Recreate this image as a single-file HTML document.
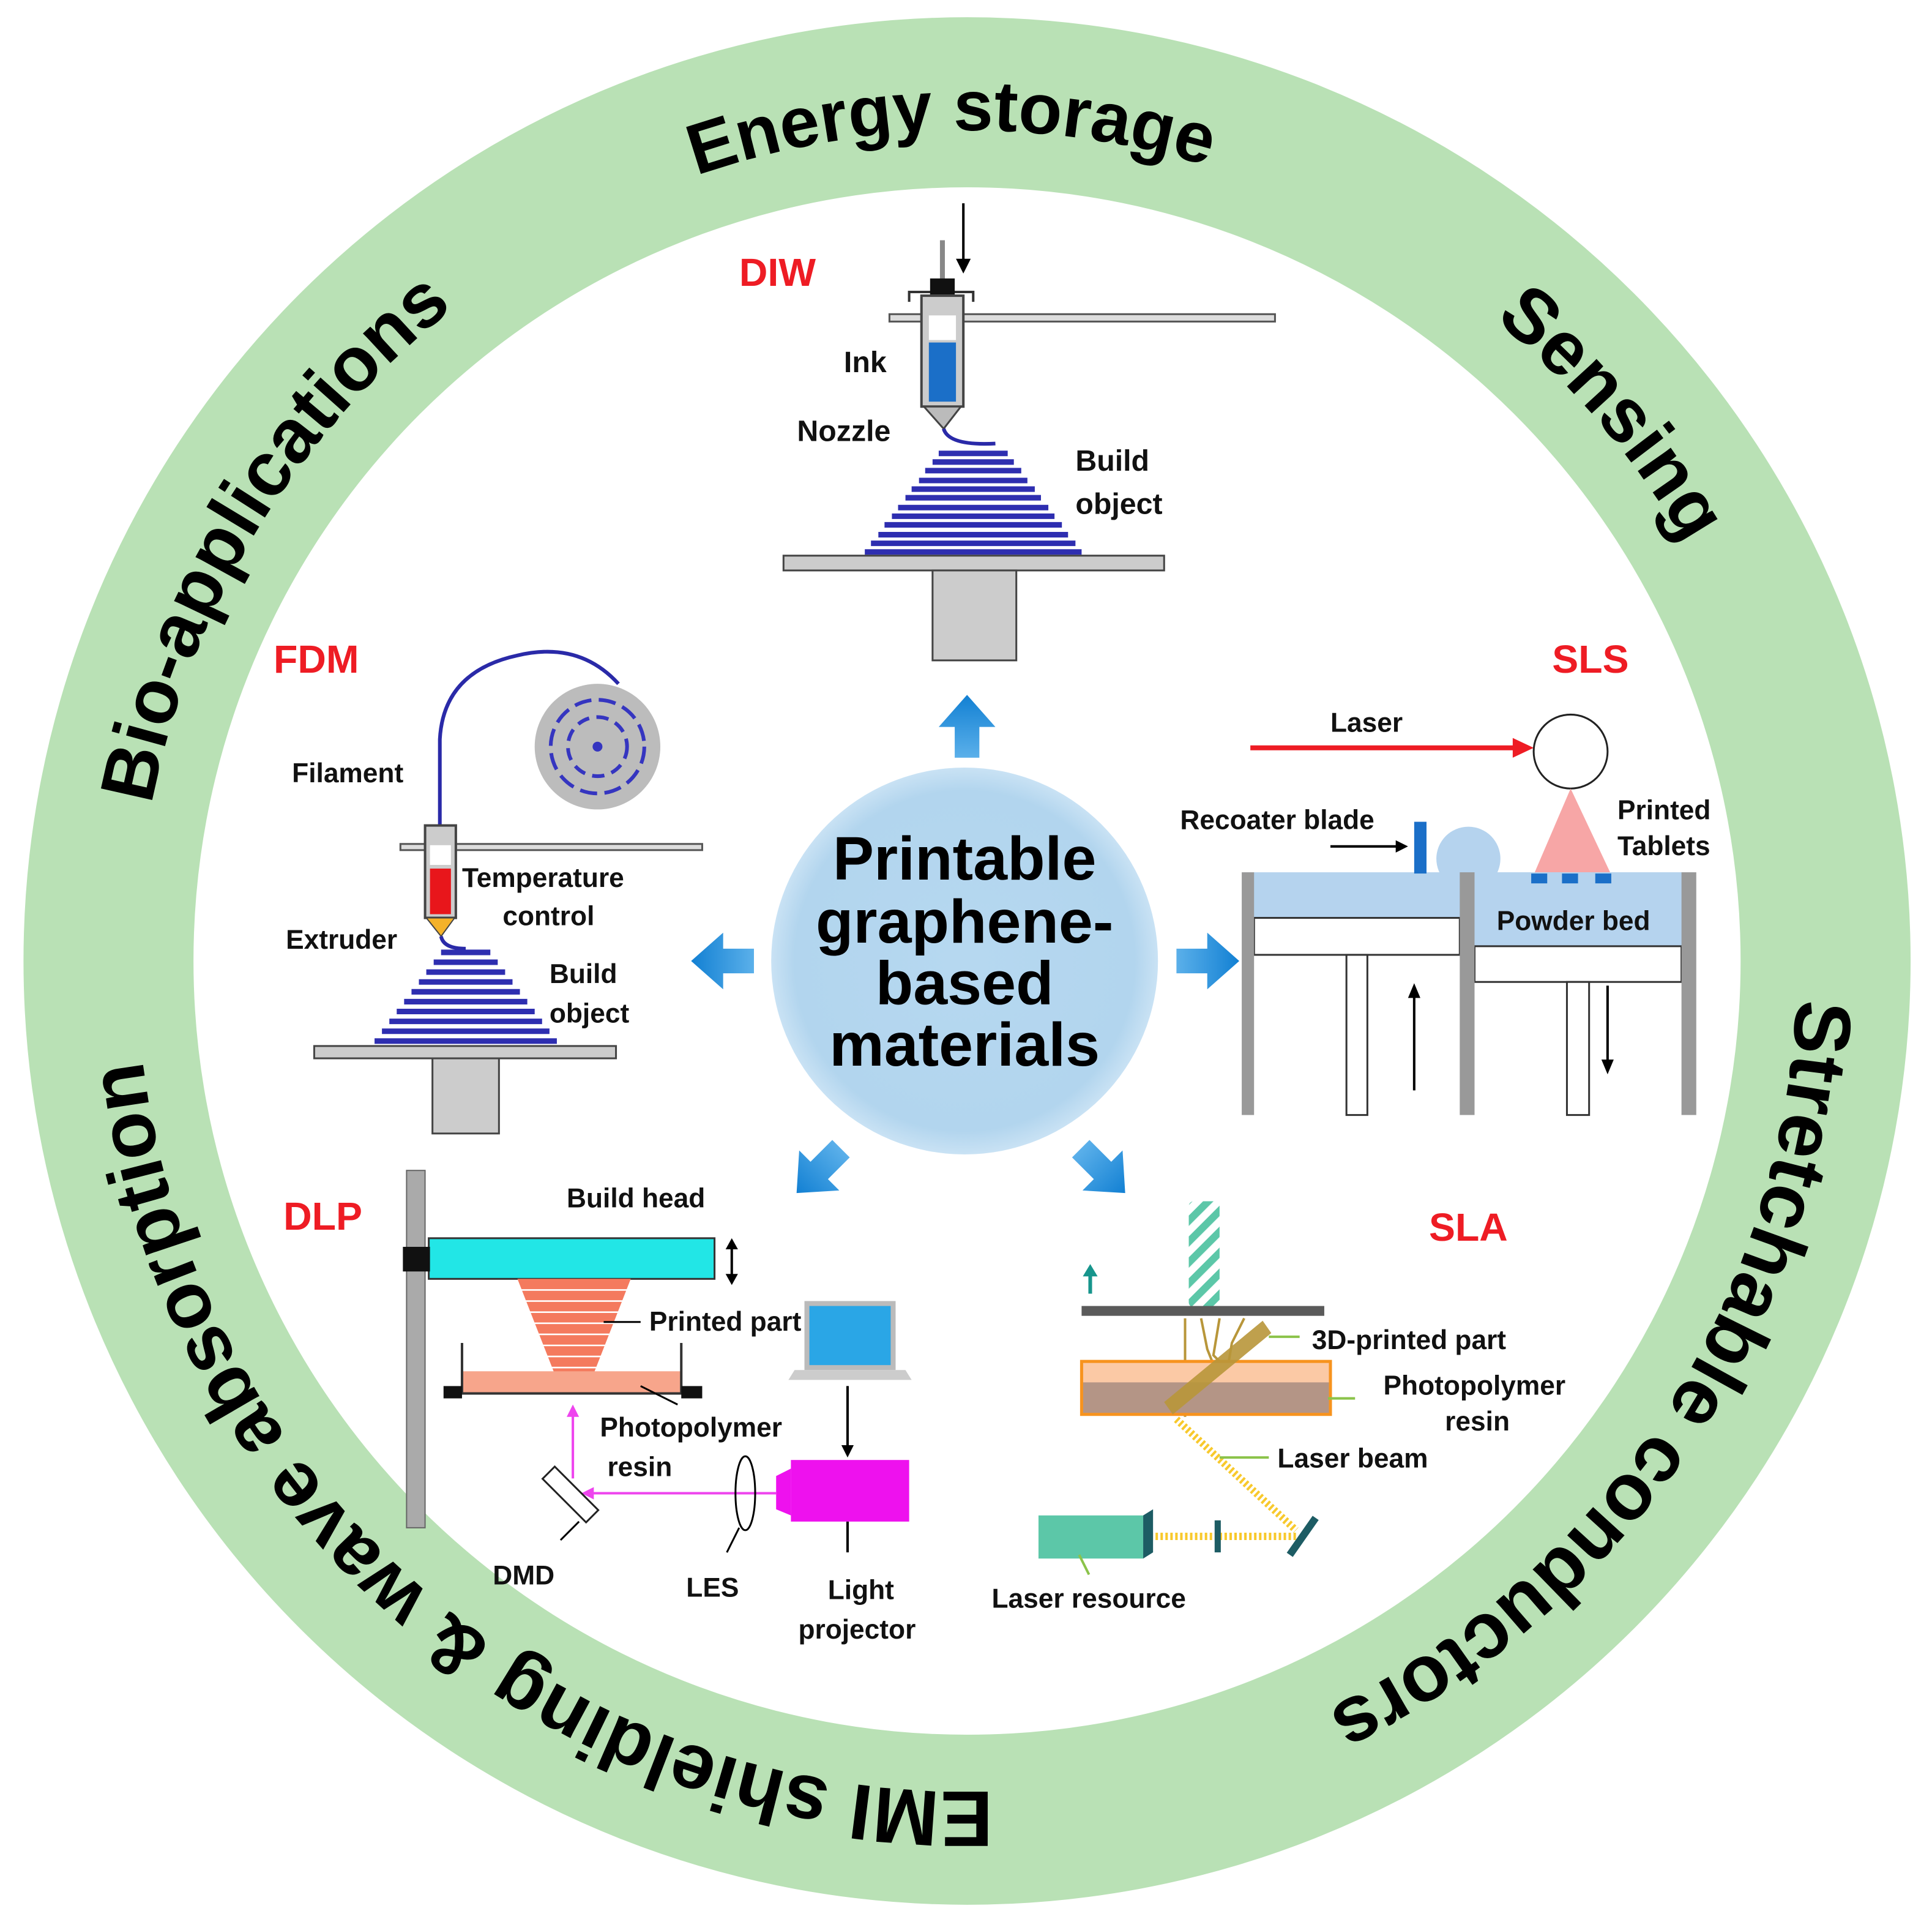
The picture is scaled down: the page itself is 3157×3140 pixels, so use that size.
<!DOCTYPE html>
<html><head><meta charset="utf-8"><style>
html,body{margin:0;padding:0;background:#fff;}
svg{display:block;}
text{font-family:"Liberation Sans",Arial,sans-serif;font-weight:bold;}
</style></head><body>
<svg width="3157" height="3140" viewBox="0 0 1568.3 1560" xmlns="http://www.w3.org/2000/svg">
<defs>
<radialGradient id="cg" cx="50%" cy="50%" r="50%">
<stop offset="0%" stop-color="#b6d8f0"/><stop offset="88%" stop-color="#b2d5ee"/><stop offset="100%" stop-color="#c9e2f4"/>
</radialGradient>
<linearGradient id="ag" x1="0" y1="0" x2="1" y2="0"><stop offset="0" stop-color="#5bb0ea"/><stop offset="1" stop-color="#1280d3"/></linearGradient>
<path id="ring" d="M 111,780 A 674,674 0 1 1 1459,780 A 674,674 0 1 1 111,780"/>
<polygon id="arr" points="-25,-10 0,-10 0,-23 26,0 0,23 0,10 -25,10" fill="url(#ag)"/>
<pattern id="hatch" width="12" height="12" patternUnits="userSpaceOnUse" patternTransform="rotate(45)"><rect width="12" height="12" fill="#fff"/><rect width="6" height="12" fill="#5cc7a8"/></pattern>
</defs>
<!-- ring -->
<circle cx="785" cy="780" r="697" fill="none" stroke="#b9e1b5" stroke-width="138"/>
<g fill="#000">
<text font-size="58" text-anchor="middle"><textPath href="#ring" startOffset="24.7%">Energy storage</textPath></text>
<text font-size="62" text-anchor="middle"><textPath href="#ring" startOffset="38.8%">Sensing</textPath></text>
<text font-size="65" text-anchor="middle"><textPath href="#ring" startOffset="59.3%">Stretchable conductors</textPath></text>
<text font-size="64" text-anchor="middle"><textPath href="#ring" startOffset="86.3%">EMI shielding &amp; wave absorption</textPath></text>
<text font-size="62" text-anchor="middle"><textPath href="#ring" startOffset="8.7%">Bio-applications</textPath></text>
</g>
<!-- center -->
<circle cx="783" cy="780" r="157" fill="url(#cg)"/>
<g font-size="50" text-anchor="middle" fill="#000">
<text x="783" y="714">Printable</text><text x="783" y="765">graphene-</text><text x="783" y="815">based</text><text x="783" y="865">materials</text>
</g>
<!-- arrows -->
<use href="#arr" transform="translate(785,590) rotate(-90)"/>
<use href="#arr" transform="translate(587,780) rotate(180)"/>
<use href="#arr" transform="translate(980,780)"/>
<use href="#arr" transform="translate(665,950) rotate(135)"/>
<use href="#arr" transform="translate(895,950) rotate(45)"/>

<g font-size="32" fill="#ee1c24">
<text x="600" y="232">DIW</text><text x="222" y="546">FDM</text><text x="1260" y="546">SLS</text><text x="230" y="998">DLP</text><text x="1160" y="1007">SLA</text>
</g>
<!-- DIW -->
<line x1="782" y1="165" x2="782" y2="218" stroke="#000" stroke-width="2"/>
<polygon points="776,210 788,210 782,222" fill="#000"/>
<rect x="722" y="255" width="313" height="6" fill="#ddd" stroke="#555" stroke-width="1.5"/>
<line x1="765" y1="195" x2="765" y2="228" stroke="#888" stroke-width="4"/>
<path d="M738,245 V237 H790 V245" fill="none" stroke="#333" stroke-width="2"/>
<rect x="755" y="226" width="20" height="13" fill="#111"/>
<rect x="748" y="240" width="34" height="90" fill="#ccc" stroke="#444" stroke-width="2"/>
<rect x="754" y="256" width="22" height="20" fill="#fff"/>
<rect x="754" y="278" width="22" height="48" fill="#1b6fc8"/>
<polygon points="750,330 780,330 766,348" fill="#bbb" stroke="#444" stroke-width="1.5"/>
<path d="M766,348 Q770,362 808,360" fill="none" stroke="#2a2aa8" stroke-width="3"/>
<g stroke="#2e2eb0" stroke-width="4.5">
<line x1="762" y1="368" x2="818" y2="368"/><line x1="757" y1="375" x2="823" y2="375"/><line x1="751" y1="382" x2="829" y2="382"/><line x1="746" y1="390" x2="834" y2="390"/><line x1="740" y1="397" x2="840" y2="397"/><line x1="735" y1="404" x2="845" y2="404"/><line x1="729" y1="412" x2="851" y2="412"/><line x1="724" y1="419" x2="856" y2="419"/><line x1="718" y1="426" x2="862" y2="426"/><line x1="713" y1="434" x2="867" y2="434"/><line x1="707" y1="441" x2="873" y2="441"/><line x1="702" y1="448" x2="878" y2="448"/>
</g>
<rect x="636" y="451" width="309" height="12" fill="#ccc" stroke="#444" stroke-width="1.5"/>
<rect x="757" y="463" width="68" height="73" fill="#ccc" stroke="#444" stroke-width="1.5"/>
<g font-size="24" fill="#111">
<text x="685" y="302">Ink</text><text x="647" y="358">Nozzle</text><text x="873" y="382">Build</text><text x="873" y="417">object</text>
</g>
<!-- FDM -->
<circle cx="485" cy="606" r="51" fill="#bcbcbc"/>
<circle cx="485" cy="606" r="38" fill="none" stroke="#3535c0" stroke-width="3" stroke-dasharray="14 6"/>
<circle cx="485" cy="606" r="24" fill="none" stroke="#3535c0" stroke-width="3" stroke-dasharray="10 6"/>
<circle cx="485" cy="606" r="4" fill="#3535c0"/>
<path d="M502,555 Q470,520 420,532 Q360,545 357,600 L357,670" fill="none" stroke="#2a2aa8" stroke-width="3"/>
<rect x="325" y="685" width="245" height="5" fill="#ddd" stroke="#555" stroke-width="1.5"/>
<rect x="345" y="670" width="25" height="75" fill="#ccc" stroke="#444" stroke-width="2"/>
<rect x="349" y="686" width="17" height="16" fill="#fff"/>
<rect x="349" y="705" width="17" height="37" fill="#e8161b"/>
<polygon points="346,745 369,745 358,760" fill="#f4b22a" stroke="#444" stroke-width="1"/>
<path d="M358,760 Q360,770 378,770" fill="none" stroke="#2a2aa8" stroke-width="3"/>
<g stroke="#2e2eb0" stroke-width="4.5">
<line x1="358" y1="773" x2="398" y2="773"/><line x1="352" y1="781" x2="404" y2="781"/><line x1="346" y1="789" x2="410" y2="789"/><line x1="340" y1="797" x2="416" y2="797"/><line x1="334" y1="805" x2="422" y2="805"/><line x1="328" y1="813" x2="428" y2="813"/><line x1="322" y1="821" x2="434" y2="821"/><line x1="316" y1="829" x2="440" y2="829"/><line x1="310" y1="837" x2="446" y2="837"/><line x1="304" y1="845" x2="452" y2="845"/>
</g>
<rect x="255" y="849" width="245" height="10" fill="#ccc" stroke="#444" stroke-width="1.5"/>
<rect x="351" y="859" width="54" height="61" fill="#ccc" stroke="#444" stroke-width="1.5"/>
<g font-size="22" fill="#111">
<text x="237" y="635">Filament</text><text x="375" y="720">Temperature</text><text x="408" y="751">control</text><text x="232" y="770">Extruder</text><text x="446" y="798">Build</text><text x="446" y="830">object</text>
</g>
<!-- SLS -->
<line x1="1015" y1="607" x2="1232" y2="607" stroke="#ee1c24" stroke-width="4"/>
<polygon points="1228,599 1245,607 1228,615" fill="#ee1c24"/>
<circle cx="1275" cy="610" r="30" fill="#fff" stroke="#222" stroke-width="1.5"/>
<polygon points="1275,640 1245,710 1308,710" fill="#f7a6a6"/>
<rect x="1010" y="708" width="365" height="38" fill="#b5d3ee"/>
<rect x="1195" y="708" width="172" height="60" fill="#b5d3ee"/>
<circle cx="1192" cy="697" r="26" fill="#b5d3ee"/>
<rect x="1148" y="667" width="10" height="42" fill="#1b6fc8"/>
<line x1="1080" y1="687" x2="1135" y2="687" stroke="#000" stroke-width="2"/><polygon points="1133,682 1143,687 1133,692" fill="#000"/>
<rect x="1243" y="709" width="13" height="8" fill="#1b6fc8"/><rect x="1268" y="709" width="13" height="8" fill="#1b6fc8"/><rect x="1295" y="709" width="13" height="8" fill="#1b6fc8"/>
<rect x="1018" y="745" width="167" height="30" fill="#fff" stroke="#333" stroke-width="1.5"/>
<rect x="1093" y="775" width="17" height="130" fill="#fff" stroke="#333" stroke-width="1.5"/>
<rect x="1197" y="768" width="168" height="29" fill="#fff" stroke="#333" stroke-width="1.5"/>
<rect x="1272" y="797" width="18" height="108" fill="#fff" stroke="#333" stroke-width="1.5"/>
<rect x="1008" y="708" width="10" height="197" fill="#999"/><rect x="1185" y="708" width="12" height="197" fill="#999"/><rect x="1365" y="708" width="12" height="197" fill="#999"/>
<line x1="1148" y1="885" x2="1148" y2="808" stroke="#000" stroke-width="2"/><polygon points="1143,810 1148,798 1153,810" fill="#000"/>
<line x1="1305" y1="800" x2="1305" y2="862" stroke="#000" stroke-width="2"/><polygon points="1300,860 1305,872 1310,860" fill="#000"/>
<g font-size="22" fill="#111">
<text x="1080" y="594">Laser</text><text x="958" y="673">Recoater blade</text><text x="1313" y="665">Printed</text><text x="1313" y="694">Tablets</text><text x="1215" y="755">Powder bed</text>
</g>
<!-- DLP -->
<rect x="330" y="950" width="15" height="290" fill="#aaa" stroke="#666" stroke-width="1"/>
<rect x="348" y="1005" width="232" height="33" fill="#22e6e6" stroke="#333" stroke-width="1.5"/>
<rect x="327" y="1012" width="22" height="20" fill="#111"/>
<line x1="594" y1="1010" x2="594" y2="1038" stroke="#000" stroke-width="2"/><polygon points="589,1014 594,1005 599,1014" fill="#000"/><polygon points="589,1034 594,1043 599,1034" fill="#000"/>
<polygon points="420,1038 512,1038 476,1130 456,1130" fill="#f47a5e"/>
<g stroke="#fff" stroke-width="1.3"><line x1="420" y1="1047" x2="512" y2="1047"/><line x1="424" y1="1056" x2="508" y2="1056"/><line x1="428" y1="1065" x2="504" y2="1065"/><line x1="431" y1="1074" x2="500" y2="1074"/><line x1="435" y1="1083" x2="497" y2="1083"/><line x1="438" y1="1092" x2="493" y2="1092"/><line x1="442" y1="1101" x2="490" y2="1101"/><line x1="446" y1="1110" x2="486" y2="1110"/><line x1="450" y1="1119" x2="482" y2="1119"/></g>
<rect x="375" y="1113" width="178" height="17" fill="#f7a58b"/>
<path d="M375,1090 V1131 H553 V1090" fill="none" stroke="#333" stroke-width="2"/>
<rect x="360" y="1125" width="15" height="10" fill="#111"/><rect x="553" y="1125" width="17" height="10" fill="#111"/>
<line x1="490" y1="1073" x2="520" y2="1073" stroke="#000" stroke-width="1.5"/>
<line x1="520" y1="1125" x2="550" y2="1140" stroke="#000" stroke-width="1.5"/>
<rect x="655" y="1058" width="70" height="52" fill="#2aa6e6" stroke="#bbb" stroke-width="4"/>
<polygon points="645,1112 735,1112 740,1120 640,1120" fill="#ccc"/>
<line x1="688" y1="1125" x2="688" y2="1175" stroke="#000" stroke-width="2"/><polygon points="683,1173 688,1183 693,1173" fill="#000"/>
<rect x="642" y="1185" width="96" height="50" fill="#ee11ee"/>
<polygon points="630,1198 642,1192 642,1230 630,1225" fill="#ee11ee"/>
<line x1="630" y1="1212" x2="478" y2="1212" stroke="#ee44ee" stroke-width="2"/><polygon points="482,1207 472,1212 482,1217" fill="#ee44ee"/>
<ellipse cx="605" cy="1212" rx="8" ry="30" fill="none" stroke="#000" stroke-width="1.5"/>
<rect x="438" y="1206" width="50" height="14" fill="#fff" stroke="#222" stroke-width="1.5" transform="rotate(45 463 1213)"/>
<line x1="465" y1="1200" x2="465" y2="1148" stroke="#ee44ee" stroke-width="2"/><polygon points="460,1150 465,1140 470,1150" fill="#ee44ee"/>
<line x1="455" y1="1250" x2="470" y2="1235" stroke="#000" stroke-width="1.5"/>
<line x1="600" y1="1240" x2="590" y2="1260" stroke="#000" stroke-width="1.5"/>
<line x1="688" y1="1235" x2="688" y2="1260" stroke="#000" stroke-width="2"/>
<g font-size="22" fill="#111">
<text x="460" y="980">Build head</text><text x="527" y="1080">Printed part</text><text x="487" y="1166">Photopolymer</text><text x="493" y="1198">resin</text><text x="400" y="1286">DMD</text><text x="557" y="1296">LES</text><text x="672" y="1298">Light</text><text x="648" y="1330">projector</text>
</g>
<!-- SLA -->
<rect x="965" y="975" width="25" height="86" rx="4" fill="url(#hatch)"/>
<line x1="885" y1="1050" x2="885" y2="1034" stroke="#17958c" stroke-width="3"/><polygon points="879,1036 885,1026 891,1036" fill="#17958c"/>
<rect x="878" y="1060" width="197" height="8" fill="#5a5a5a"/>
<g stroke="#b8963a" stroke-width="2" fill="none"><path d="M962,1070 L962,1150"/><path d="M975,1070 L980,1095 L990,1120"/><path d="M990,1070 L985,1100 L1000,1115"/><path d="M1010,1070 L1000,1090 L995,1120"/></g>
<rect x="878" y="1105" width="202" height="43" fill="#b49586"/>
<rect x="878" y="1105" width="202" height="17" fill="#fbc9a5"/>
<rect x="878" y="1105" width="202" height="43" fill="none" stroke="#f7931e" stroke-width="2.5"/>
<polygon points="945,1138 1025,1072 1032,1082 952,1148" fill="#b8963a" opacity="0.9"/>
<line x1="1030" y1="1085" x2="1055" y2="1085" stroke="#8bc34a" stroke-width="2"/>
<line x1="1078" y1="1135" x2="1100" y2="1135" stroke="#8bc34a" stroke-width="2"/>
<line x1="955" y1="1152" x2="1052" y2="1242" stroke="#f8c92c" stroke-width="6" stroke-dasharray="2 2"/>
<line x1="930" y1="1247" x2="1052" y2="1247" stroke="#f8c92c" stroke-width="6" stroke-dasharray="2 2"/>
<line x1="990" y1="1183" x2="1030" y2="1183" stroke="#8bc34a" stroke-width="2"/>
<rect x="843" y="1230" width="85" height="35" fill="#5cc7a8"/>
<polygon points="928,1230 936,1225 936,1260 928,1265" fill="#1d5c64"/>
<rect x="986" y="1234" width="5" height="26" fill="#1d5c64"/>
<line x1="1047" y1="1262" x2="1068" y2="1232" stroke="#1d5c64" stroke-width="6"/>
<line x1="876" y1="1262" x2="884" y2="1278" stroke="#8bc34a" stroke-width="2"/>
<g font-size="22" fill="#111">
<text x="1065" y="1095">3D-printed part</text><text x="1123" y="1132">Photopolymer</text><text x="1173" y="1161">resin</text><text x="1037" y="1191">Laser beam</text><text x="805" y="1305">Laser resource</text>
</g>
</svg>
</body></html>
